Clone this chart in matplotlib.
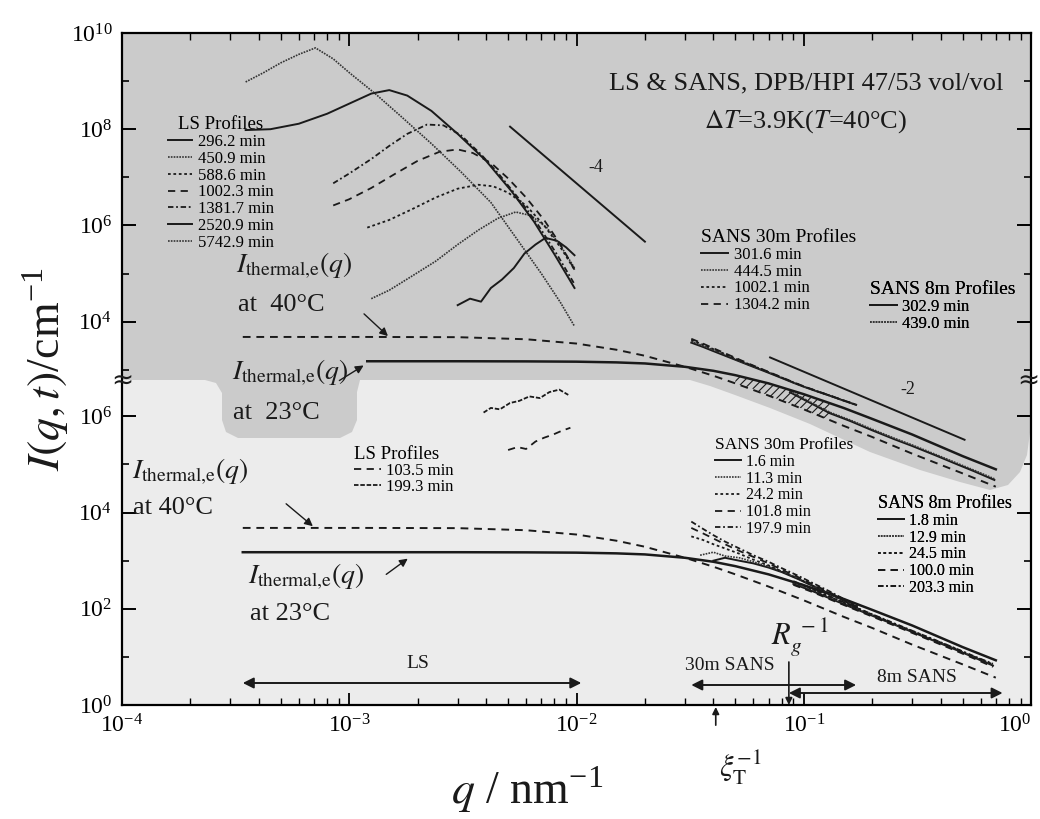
import matplotlib as mpl
import matplotlib.pyplot as plt
from matplotlib.lines import Line2D
from matplotlib.patches import Polygon
from matplotlib.ticker import FixedLocator, NullFormatter, LogFormatterMathtext

mpl.rcParams.update({
    "font.family": "serif",
    "font.serif": ["Liberation Serif", "DejaVu Serif"],
    "mathtext.fontset": "stix",
    "xtick.direction": "in",
    "ytick.direction": "in",
    "axes.linewidth": 1.6,
    "hatch.linewidth": 0.8,
})

W, H = 1040, 819
X0, X1, Y0, Y1 = 122, 1031, 33, 705  # plot frame, pixels from top-left
YBRK = 380  # pixel row of the axis break
DEC = 13.97  # decades shown over the frame height (same for both scales)

# ---------------- upper data set (late stage, T = 40 C) ----------------
q_ls_5742 = [3.5e-4, 4.2e-4, 5.0e-4, 6.0e-4, 7.1e-4, 8.5e-4, 1.0e-3, 1.3e-3, 1.7e-3, 2.3e-3, 3.1e-3, 4.2e-3, 5.5e-3, 7.0e-3, 8.5e-3, 9.8e-3]
I_ls_5742 = [9.6e8, 1.5e9, 2.4e9, 3.6e9, 4.9e9, 2.9e9, 1.5e9, 5.5e8, 1.8e8, 5.0e7, 1.3e7, 3.0e6, 5.0e5, 1.0e5, 2.5e4, 8.0e3]
q_ls_2520 = [3.5e-4, 4.5e-4, 6.0e-4, 8.0e-4, 1.0e-3, 1.25e-3, 1.5e-3, 1.8e-3, 2.3e-3, 3.0e-3, 4.0e-3, 5.2e-3, 6.5e-3, 8.0e-3, 9.8e-3]
I_ls_2520 = [9.6e7, 1.0e8, 1.3e8, 2.1e8, 3.4e8, 5.5e8, 6.5e8, 5.0e8, 2.4e8, 8.0e7, 2.2e7, 5.0e6, 1.2e6, 2.5e5, 5.0e4]
q_ls_1381 = [8.5e-4, 1.0e-3, 1.25e-3, 1.5e-3, 1.8e-3, 2.2e-3, 2.6e-3, 3.1e-3, 3.8e-3, 4.6e-3, 5.6e-3, 6.8e-3, 8.2e-3, 9.8e-3]
I_ls_1381 = [7.5e6, 1.2e7, 2.4e7, 4.5e7, 8.0e7, 1.25e8, 1.2e8, 7.5e7, 3.0e7, 1.1e7, 3.5e6, 1.0e6, 2.5e5, 6.0e4]
q_ls_1002 = [8.5e-4, 1.0e-3, 1.25e-3, 1.6e-3, 2.0e-3, 2.5e-3, 3.0e-3, 3.5e-3, 4.2e-3, 5.0e-3, 6.0e-3, 7.2e-3, 8.5e-3, 9.8e-3]
I_ls_1002 = [2.6e6, 3.5e6, 6.0e6, 1.2e7, 2.2e7, 3.4e7, 3.8e7, 3.2e7, 2.0e7, 9.5e6, 3.8e6, 1.3e6, 4.0e5, 1.2e5]
q_ls_588 = [1.2e-3, 1.5e-3, 1.9e-3, 2.4e-3, 3.0e-3, 3.7e-3, 4.3e-3, 5.0e-3, 6.0e-3, 7.2e-3, 8.5e-3, 9.8e-3]
I_ls_588 = [9.0e5, 1.3e6, 2.2e6, 3.8e6, 5.8e6, 7.0e6, 6.5e6, 4.8e6, 2.6e6, 1.0e6, 3.5e5, 1.2e5]
q_ls_450 = [1.25e-3, 1.5e-3, 1.9e-3, 2.4e-3, 3.0e-3, 3.7e-3, 4.5e-3, 5.4e-3, 6.3e-3, 7.4e-3, 8.6e-3, 9.8e-3]
I_ls_450 = [3.0e4, 4.5e4, 9.0e4, 1.8e5, 4.0e5, 8.0e5, 1.4e6, 1.9e6, 1.6e6, 9.0e5, 3.5e5, 1.3e5]
q_ls_296 = [3.0e-3, 3.4e-3, 3.8e-3, 4.2e-3, 4.7e-3, 5.3e-3, 5.9e-3, 6.6e-3, 7.3e-3, 8.2e-3, 9.0e-3, 9.8e-3]
I_ls_296 = [2.2e4, 3.0e4, 2.6e4, 5.0e4, 7.5e4, 1.3e5, 2.6e5, 4.0e5, 5.5e5, 4.8e5, 3.5e5, 2.4e5]

q_s30_up = [0.032, 0.036, 0.04, 0.045, 0.05, 0.057, 0.063, 0.071, 0.08, 0.09, 0.1, 0.115, 0.13, 0.15, 0.17]
I_s30_1304 = [4.4e3, 3.5e3, 2.8e3, 2.2e3, 1.77e3, 1.35e3, 1.11e3, 880, 695, 550, 452, 357, 292, 230, 188]
I_s30_1002 = [4.15e3, 3.33e3, 2.68e3, 2.12e3, 1.72e3, 1.32e3, 1.09e3, 868, 688, 546, 449, 355, 291, 229, 187]
I_s30_444 = [3.9e3, 3.15e3, 2.56e3, 2.04e3, 1.66e3, 1.29e3, 1.07e3, 855, 680, 541, 446, 353, 290, 228, 187]
I_s30_301 = [3.65e3, 2.98e3, 2.44e3, 1.96e3, 1.61e3, 1.26e3, 1.05e3, 842, 672, 536, 443, 351, 289, 227, 186]
q_s8_up = [0.087, 0.1, 0.115, 0.13, 0.16, 0.2, 0.25, 0.3, 0.38, 0.46, 0.56, 0.69]
I_s8_302 = [340, 240, 170, 125, 86, 55, 36, 26, 16.6, 11.4, 7.8, 5.1]
I_s8_439 = [355, 252, 178, 131, 90, 58, 37.8, 27.3, 17.4, 12.0, 8.2, 5.4]

q_slope4 = [5.1e-3, 2.0e-2]
I_slope4 = [1.13e8, 4.6e5]
q_slope2 = [0.0711, 0.51]
I_slope2 = [1.8e3, 35]

# hatched band between the two thermal curves
q_hatch = [0.05, 0.06, 0.07, 0.085, 0.1, 0.115, 0.13]
I_hatch_top = [770, 640, 520, 400, 310, 250, 200]
I_hatch_bot = [520, 400, 290, 205, 150, 110, 90]

# ---------------- thermal curves, drawn in both panels ----------------
q_th = [3.4e-4, 1.0e-3, 1.2e-3, 3.0e-3, 6.0e-3, 1.0e-2, 1.5e-2, 2.0e-2, 3.0e-2, 4.0e-2, 5.0e-2, 7.0e-2, 0.1, 0.15, 0.2, 0.3, 0.5, 0.7]
I_th40 = [4800, 4800, 4800, 4750, 4300, 3500, 2600, 1950, 1150, 750, 520, 290, 150, 68, 40, 18, 7.0, 3.7]
I_th23 = [1500, 1500, 1500, 1500, 1490, 1470, 1420, 1350, 1150, 950, 770, 520, 310, 160, 95, 45, 16, 8.5]

# ---------------- lower data set (early stage) ----------------
q_ls_199 = [3.9e-3, 4.2e-3, 4.6e-3, 5.1e-3, 5.6e-3, 6.2e-3, 6.9e-3, 7.6e-3, 8.4e-3, 9.2e-3]
I_ls_199 = [1.2e6, 1.5e6, 1.4e6, 1.9e6, 2.1e6, 2.6e6, 2.4e6, 3.2e6, 3.6e6, 2.8e6]
q_ls_103 = [5.0e-3, 5.5e-3, 6.0e-3, 6.6e-3, 7.2e-3, 7.9e-3, 8.6e-3, 9.4e-3]
I_ls_103 = [2.0e5, 2.3e5, 2.1e5, 3.0e5, 3.6e5, 4.2e5, 5.0e5, 5.8e5]

q_s30_lo = [0.032, 0.036, 0.04, 0.045, 0.052, 0.06, 0.07, 0.08, 0.095, 0.11, 0.13, 0.15, 0.175]
I_s30_197 = [6.5e3, 4.6e3, 3.4e3, 2.5e3, 1.8e3, 1.3e3, 950, 700, 480, 340, 230, 160, 110]
I_s30_101 = [4.8e3, 3.7e3, 2.9e3, 2.2e3, 1.6e3, 1.2e3, 880, 650, 450, 320, 220, 155, 105]
I_s30_24 = [3.2e3, 2.7e3, 2.2e3, 1.8e3, 1.4e3, 1.05e3, 800, 600, 420, 300, 210, 150, 100]
q_s30_11 = [0.035, 0.04, 0.045, 0.052, 0.06, 0.07, 0.08, 0.095, 0.11, 0.13, 0.15, 0.175]
I_s30_11 = [1.3e3, 1.5e3, 1.25e3, 1.15e3, 950, 760, 600, 420, 300, 210, 150, 100]
q_s30_1 = [0.04, 0.045, 0.052, 0.06, 0.07, 0.08, 0.095, 0.11, 0.13, 0.15, 0.175]
I_s30_1 = [1.0e3, 1.15e3, 1.0e3, 880, 720, 580, 410, 295, 205, 148, 98]

q_s8_lo = [0.09, 0.11, 0.13, 0.16, 0.2, 0.25, 0.3, 0.38, 0.46, 0.56, 0.68]
I_s8_1 = [330, 230, 165, 110, 72, 47, 33, 21, 14.5, 9.8, 6.6]
I_s8_12 = [345, 240, 172, 114, 74, 48, 34, 21.5, 15, 10, 6.8]
I_s8_24 = [360, 250, 178, 118, 76, 49, 34.5, 22, 15.2, 10.2, 7.0]
I_s8_100 = [315, 220, 158, 106, 69, 45, 31.5, 20, 13.8, 9.3, 6.2]
I_s8_203 = [375, 258, 183, 120, 77, 50, 35, 22.3, 15.4, 10.4, 7.2]

# measured q ranges and characteristic wave numbers
q_range_ls = (3.4e-4, 1.05e-2)
q_range_30 = (3.2e-2, 0.17)
q_range_8 = (8.6e-2, 0.75)
q_rg = 0.086
q_xi = 0.041

DARK = "#1a1a1a"
MID = "#333333"
st = {
    "solid": dict(color=DARK, lw=1.4, ls="-"),
    "fine": dict(color=MID, lw=1.2, ls=(0, (1, 0.7))),
    "dot": dict(color=DARK, lw=1.3, ls=(0, (1.5, 1.5))),
    "dash": dict(color=DARK, lw=1.3, ls=(0, (4, 3))),
    "dashdot": dict(color=DARK, lw=1.3, ls=(0, (3, 1.5, 1, 1.5))),
    "dense": dict(color=DARK, lw=1.3, ls=(0, (2.5, 1))),
}


def px(x, y):
    return (x, H - y)


fig = plt.figure(figsize=(W / 100, H / 100), dpi=100)
rect = [X0 / W, 1 - Y1 / H, (X1 - X0) / W, (Y1 - Y0) / H]
ax_u = fig.add_axes(rect, zorder=1)
ax_l = fig.add_axes(rect, zorder=2)
ax_l.patch.set_alpha(0)
ax_u.set_facecolor("#ececec")

for ax in (ax_u, ax_l):
    ax.set_xscale("log")
    ax.set_yscale("log")
    ax.set_xlim(1e-4, 1)
ax_u.set_ylim(10 ** (10 - DEC), 1e10)
ax_l.set_ylim(1, 10 ** DEC)

# gray background of the late-stage data (upper scale), with the two blobs below the break
region_px = [(122, 33), (1031, 33), (1031, 380), (1031, 425), (1027, 455), (1020, 472), (1008, 485),
             (990, 490), (960, 482), (920, 470), (870, 452), (840, 438), (810, 424), (770, 408),
             (735, 395), (710, 386), (690, 380), (360, 380), (357, 392), (357, 420), (352, 432),
             (340, 438), (238, 438), (226, 432), (222, 420), (222, 393), (216, 383), (205, 380),
             (122, 380)]
region = Polygon([(x / W, 1 - y / H) for x, y in region_px], closed=True,
                 transform=fig.transFigure, facecolor="#cbcbcb", edgecolor="none", zorder=0.5)
ax_u.add_artist(region)

up_lines = []
ls_series = [
    (q_ls_296, I_ls_296, "solid", "296.2 min"),
    (q_ls_450, I_ls_450, "fine", "450.9 min"),
    (q_ls_588, I_ls_588, "dot", "588.6 min"),
    (q_ls_1002, I_ls_1002, "dash", "1002.3 min"),
    (q_ls_1381, I_ls_1381, "dashdot", "1381.7 min"),
    (q_ls_2520, I_ls_2520, "solid", "2520.9 min"),
    (q_ls_5742, I_ls_5742, "fine", "5742.9 min"),
]
for q, I, s, lab in ls_series:
    up_lines += ax_u.plot(q, I, **st[s])

s30_up = [(I_s30_301, "solid", "301.6 min"), (I_s30_444, "fine", "444.5 min"),
          (I_s30_1002, "dot", "1002.1 min"), (I_s30_1304, "dash", "1304.2 min")]
for I, s, lab in s30_up:
    up_lines += ax_u.plot(q_s30_up, I, **st[s])
s8_up = [(I_s8_302, "solid", "302.9 min"), (I_s8_439, "fine", "439.0 min")]
for I, s, lab in s8_up:
    up_lines += ax_u.plot(q_s8_up, I, **st[s])

up_lines += ax_u.plot(q_slope4, I_slope4, color=DARK, lw=1.4)
up_lines += ax_u.plot(q_slope2, I_slope2, color=DARK, lw=1.4)
up_lines += ax_u.plot(q_th, I_th40, color=DARK, lw=1.4, ls=(0, (4, 3)))
up_lines += ax_u.plot(q_th[2:], I_th23[2:], color=DARK, lw=1.8)
hatch = ax_u.fill_between(q_hatch, I_hatch_bot, I_hatch_top, facecolor="none",
                          edgecolor=DARK, hatch="////", lw=0, zorder=1.5)
hatch.set_clip_path(region)
for ln in up_lines:
    ln.set_clip_path(region)

# lower panel data
ax_l.plot(q_th, I_th40, color=DARK, lw=1.4, ls=(0, (4, 3)))
ax_l.plot(q_th, I_th23, color=DARK, lw=1.8)
ls_lo = [(q_ls_103, I_ls_103, "dash", "103.5 min"), (q_ls_199, I_ls_199, "dense", "199.3 min")]
for q, I, s, lab in ls_lo:
    ax_l.plot(q, I, **st[s])
s30_lo = [(q_s30_1, I_s30_1, "solid", "1.6 min"), (q_s30_11, I_s30_11, "fine", "11.3 min"),
          (q_s30_lo, I_s30_24, "dot", "24.2 min"), (q_s30_lo, I_s30_101, "dash", "101.8 min"),
          (q_s30_lo, I_s30_197, "dashdot", "197.9 min")]
for q, I, s, lab in s30_lo:
    ax_l.plot(q, I, **st[s])
s8_lo = [(I_s8_1, "solid", "1.8 min"), (I_s8_12, "fine", "12.9 min"), (I_s8_24, "dot", "24.5 min"),
         (I_s8_100, "dash", "100.0 min"), (I_s8_203, "dashdot", "203.3 min")]
for I, s, lab in s8_lo:
    ax_l.plot(q_s8_lo, I, **st[s])

# ticks
ax_u.yaxis.set_major_locator(FixedLocator([1e4, 1e6, 1e8, 1e10]))
ax_u.yaxis.set_minor_locator(FixedLocator([1e3, 1e5, 1e7, 1e9]))
ax_u.yaxis.set_major_formatter(LogFormatterMathtext())
ax_u.yaxis.set_minor_formatter(NullFormatter())
ax_l.yaxis.set_major_locator(FixedLocator([1, 1e2, 1e4, 1e6]))
ax_l.yaxis.set_minor_locator(FixedLocator([1e1, 1e3, 1e5]))
ax_l.yaxis.set_major_formatter(LogFormatterMathtext())
ax_l.yaxis.set_minor_formatter(NullFormatter())
ax_l.xaxis.set_major_locator(FixedLocator([1e-4, 1e-3, 1e-2, 1e-1, 1]))
for ax in (ax_u, ax_l):
    ax.tick_params(axis="y", which="major", left=True, right=True, length=10, width=1.4,
                   labelsize=17, pad=7)
    ax.tick_params(axis="y", which="minor", left=True, right=True, length=5, width=1.2)
ax_l.tick_params(axis="x", which="major", top=True, bottom=True, length=9, width=1.3,
                 labelsize=17, pad=7)
ax_l.tick_params(axis="x", which="minor", top=True, bottom=True, length=5, width=1.0)
ax_u.tick_params(axis="x", which="both", bottom=False, top=False, labelbottom=False)
ax_l.get_xticklabels()[-1].set_horizontalalignment("right")
for sp in ax_u.spines.values():
    sp.set_visible(False)

# break marks on both spines
for bx in (X0, X1 - 3):
    fig.text(bx / W, 1 - (YBRK + 1) / H, "\u2248", fontsize=19, ha="center", va="center",
             family="DejaVu Sans", color=DARK)


# legends
def add_legend(ax, styles, labels, title, x, y, fs, tfs, align, hl, sp):
    handles = [Line2D([], [], **st[s]) for s in styles]
    leg = ax.legend(handles, labels, title=title, loc="upper left",
                    bbox_to_anchor=(x / W, 1 - y / H), bbox_transform=fig.transFigure,
                    frameon=False, fontsize=fs, title_fontsize=tfs, handlelength=hl,
                    handletextpad=0.35, labelspacing=sp, borderpad=0, borderaxespad=0,
                    alignment=align)
    ax.add_artist(leg)


add_legend(ax_u, [s for _, _, s, _ in ls_series], [l for _, _, _, l in ls_series],
           "LS Profiles", 168, 116, 12, 13.5, "center", 1.45, 0.05)
add_legend(ax_u, [s for _, s, _ in s30_up], [l for _, _, l in s30_up],
           "SANS 30m Profiles", 701, 229, 12, 14, "left", 1.6, 0.05)
add_legend(ax_u, [s for _, s, _ in s8_up], [l for _, _, l in s8_up],
           "SANS 8m Profiles", 870, 281, 12, 14, "left", 1.6, 0.05)
add_legend(ax_l, [s for _, _, s, _ in ls_lo], [l for _, _, _, l in ls_lo],
           "LS Profiles", 354, 446, 12, 13.5, "left", 1.6, 0.0)
add_legend(ax_l, [s for _, _, s, _ in s30_lo], [l for _, _, _, l in s30_lo],
           "SANS 30m Profiles", 715, 437, 11.5, 12.5, "left", 1.6, 0.05)
add_legend(ax_l, [s for _, s, _ in s8_lo], [l for _, _, l in s8_lo],
           "SANS 8m Profiles", 878, 495, 11.5, 13, "left", 1.6, 0.05)


# texts
def ftext(x, y, s, **kw):
    kw.setdefault("ha", "left")
    kw.setdefault("va", "center")
    fig.text(x / W, 1 - y / H, s, color=DARK, **kw)


ftext(806, 83, "LS & SANS, DPB/HPI 47/53 vol/vol", fontsize=19, ha="center")
ftext(806, 122, r"$\Delta T$=3.9K($T$=40°C)", fontsize=19, ha="center")
ftext(588, 168, "-4", fontsize=13)
ftext(900, 390, "-2", fontsize=13)

th_lab = r"$I_{\mathrm{thermal{,}e}}(q)$"
ftext(236, 266, th_lab, fontsize=20)
ftext(238, 305, "at  40°C", fontsize=19)
ftext(232, 373, th_lab, fontsize=20)
ftext(233, 413, "at  23°C", fontsize=19)
ftext(132, 472, th_lab, fontsize=20)
ftext(133, 508, "at 40°C", fontsize=19)
ftext(248, 577, th_lab, fontsize=20)
ftext(250, 614, "at 23°C", fontsize=19)

for (x0, y0, x1, y1) in [(362, 312, 390, 338), (337, 382, 366, 364),
                         (284, 502, 315, 528), (384, 576, 410, 557)]:
    ax_l.annotate("", xy=px(x1, y1), xytext=px(x0, y0), xycoords="figure pixels",
                  textcoords="figure pixels",
                  arrowprops=dict(arrowstyle="-|>", color=DARK, lw=1.0, mutation_scale=12))

# measurement ranges
xax = ax_l.get_xaxis_transform()
for (qa, qb), yf in [(q_range_ls, (Y1 - 683) / (Y1 - Y0)), (q_range_30, (Y1 - 685) / (Y1 - Y0)),
                     (q_range_8, (Y1 - 693) / (Y1 - Y0))]:
    ax_l.annotate("", xy=(qb, yf), xytext=(qa, yf), xycoords=xax, textcoords=xax,
                  arrowprops=dict(arrowstyle="<|-|>", color=DARK, lw=1.4, mutation_scale=16,
                                  shrinkA=0, shrinkB=0))
ftext(418, 663, "LS", fontsize=14, ha="center")
ftext(730, 665, "30m SANS", fontsize=14, ha="center")
ftext(917, 677, "8m SANS", fontsize=14, ha="center")

ax_l.annotate("", xy=(q_rg, 0.0), xytext=(q_rg, (Y1 - 662) / (Y1 - Y0)), xycoords=xax,
              textcoords=xax, arrowprops=dict(arrowstyle="-|>", color=DARK, lw=1.2,
                                              mutation_scale=10, shrinkA=0, shrinkB=0))
ftext(800, 638, r"$R_g^{\;-1}$", fontsize=22, ha="center")
ax_l.annotate("", xy=(q_xi, -0.003), xytext=(q_xi, -0.03), xycoords=xax, textcoords=xax,
              annotation_clip=False,
              arrowprops=dict(arrowstyle="-|>", color=DARK, lw=1.2, mutation_scale=10,
                              shrinkA=0, shrinkB=0))
ftext(740, 768, r"$\xi_{\mathrm{T}}^{-1}$", fontsize=22, ha="center")

# axis labels
ftext(527, 790, r"$q$ / nm$^{\mathregular{-1}}$", fontsize=33, ha="center")
ftext(46, 369, r"$I(q,t)$/cm$^{\mathregular{-1}}$", fontsize=33, ha="center", rotation=90)

fig.savefig("out.png", dpi=100)
